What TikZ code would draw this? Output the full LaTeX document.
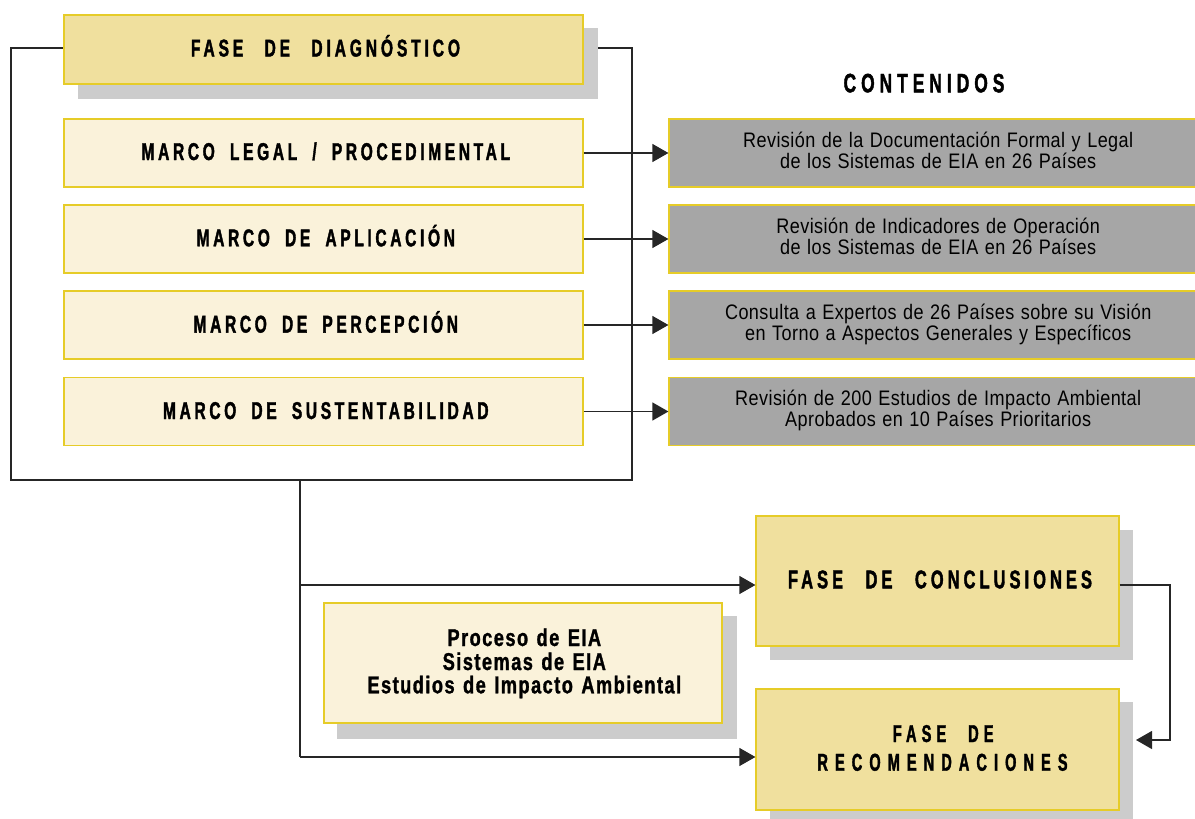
\documentclass[tikz,border=0pt]{standalone}
\usepackage{fontspec}
\setmainfont{Liberation Sans}
\newfontfamily\dfont[FakeStretch=0.64,LetterSpace=16,WordSpace=3.4,BoldFeatures={FakeBold=1.6}]{Liberation Sans}
\newfontfamily\kfont[FakeStretch=0.64,LetterSpace=16,WordSpace=2.6,BoldFeatures={FakeBold=1.6}]{Liberation Sans}
\newfontfamily\mfont[FakeStretch=0.64,LetterSpace=15,WordSpace=1.9,BoldFeatures={FakeBold=1.6}]{Liberation Sans}
\newfontfamily\cfont[FakeStretch=0.65,LetterSpace=19,BoldFeatures={FakeBold=1.6}]{Liberation Sans}
\newfontfamily\rafont[FakeStretch=0.6,LetterSpace=21,WordSpace=2.4,BoldFeatures={FakeBold=1.6}]{Liberation Sans}
\newfontfamily\rbfont[FakeStretch=0.6,LetterSpace=29,BoldFeatures={FakeBold=1.6}]{Liberation Sans}
\newfontfamily\pfont[FakeStretch=0.75,LetterSpace=6,WordSpace=1.3,BoldFeatures={FakeBold=1.2}]{Liberation Sans}
\newfontfamily\gfont[FakeStretch=0.86,LetterSpace=2,WordSpace=1.2]{Liberation Sans}
\usetikzlibrary{arrows.meta}
\definecolor{yel}{RGB}{240,224,158}
\definecolor{cream}{RGB}{250,242,218}
\definecolor{bord}{RGB}{230,204,40}
\definecolor{grayb}{RGB}{166,166,166}
\definecolor{shad}{RGB}{204,204,204}
\tikzset{
  box/.style={draw=bord,line width=1.2pt,inner sep=0pt},
  phase/.style={box,fill=yel},
  marco/.style={box,fill=cream,minimum width=519pt,minimum height=68pt},
  cont/.style={box,fill=grayb,minimum width=538pt,minimum height=68pt},
  txt/.style={anchor=base,inner sep=0pt,text=black},
  dtxt/.style={txt,font=\dfont\bfseries\fontsize{24.3}{28}\selectfont},
  ctxt/.style={txt,font=\kfont\bfseries\fontsize{25.6}{28}\selectfont},
  mtxt/.style={txt,font=\mfont\bfseries\fontsize{24.3}{28}\selectfont},
  gtxt/.style={txt,font=\gfont\fontsize{21}{21}\selectfont},
  ptxt/.style={txt,font=\pfont\bfseries\fontsize{24.3}{24}\selectfont},
  conn/.style={line width=1.2pt,draw=black!85},
  arr/.style={conn,-{Triangle[length=16pt,width=18pt]}},
}
\begin{document}
\begin{tikzpicture}[x=1pt,y=-1pt]
\useasboundingbox (0,0) rectangle (1195,819);
% shadows
\fill[shad] (78,28) rectangle (598,99);
\fill[shad] (770,530) rectangle (1133,660);
\fill[shad] (770,702) rectangle (1133,830);
\fill[shad] (337,616) rectangle (737,739);
% bracket
\coordinate (bl) at (11,48);
\coordinate (bb) at (300,480);
\coordinate (br) at (632,480);
\coordinate (tr) at (632,48);
\coordinate (ds) at (598,48);
\draw[conn] (64,48) -- (bl) |- (br) -- (tr) -- (ds);
% boxes
\node[phase,minimum width=519pt,minimum height=69pt] (diag) at (323.5,49.5) {};
\node[marco] (m1) at (323.5,153) {};
\node[marco] (m2) at (323.5,239) {};
\node[marco] (m3) at (323.5,325) {};
\node[marco] (m4) at (323.5,411.5) {};
\node[cont] (c1) at (938,153) {};
\node[cont] (c2) at (938,239) {};
\node[cont] (c3) at (938,325) {};
\node[cont] (c4) at (938,411.5) {};
\node[phase,minimum width=363pt,minimum height=130pt] (conc) at (937.5,581) {};
\node[phase,minimum width=363pt,minimum height=121pt] (rec) at (937.5,749.5) {};
\node[box,fill=cream,minimum width=398pt,minimum height=120pt] (proc) at (523,663) {};
% texts
\node[dtxt] (tdiag) at (325.5,56.5) {FASE DE DIAGNÓSTICO};
\node[txt,font=\cfont\bfseries\fontsize{26.6}{30}\selectfont] (conten) at (924,92.3) {CONTENIDOS};
\node[mtxt] (t1) at (325.8,160) {MARCO LEGAL / PROCEDIMENTAL};
\node[mtxt] (t2) at (325.8,246.3) {MARCO DE APLICACIÓN};
\node[mtxt] (t3) at (325.8,332.6) {MARCO DE PERCEPCIÓN};
\node[mtxt] (t4) at (325.8,419) {MARCO DE SUSTENTABILIDAD};
\node[gtxt] (g1a) at (938.2,147.5) {Revisión de la Documentación Formal y Legal};
\node[gtxt] (g1b) at (938.2,168.5) {de los Sistemas de EIA en 26 Países};
\node[gtxt] (g2a) at (938.2,233.5) {Revisión de Indicadores de Operación};
\node[gtxt] (g2b) at (938.2,254.5) {de los Sistemas de EIA en 26 Países};
\node[gtxt] (g3a) at (938.2,319.5) {Consulta a Expertos de 26 Países sobre su Visión};
\node[gtxt] (g3b) at (938.2,340.5) {en Torno a Aspectos Generales y Específicos};
\node[gtxt] (g4a) at (938.2,405.8) {Revisión de 200 Estudios de Impacto Ambiental};
\node[gtxt] (g4b) at (938.2,426.8) {Aprobados en 10 Países Prioritarios};
\node[ctxt] (tconc) at (940,588.3) {FASE DE CONCLUSIONES};
\node[txt,font=\rafont\bfseries\fontsize{24.3}{28}\selectfont] (trec1) at (943.2,742) {FASE DE};
\node[txt,font=\rbfont\bfseries\fontsize{24.3}{28}\selectfont] (trec2) at (942.5,770.7) {RECOMENDACIONES};
\node[ptxt] (p1) at (524.3,646) {Proceso de EIA};
\node[ptxt] (p2) at (524.3,670) {Sistemas de EIA};
\node[ptxt] (p3) at (524.3,693.3) {Estudios de Impacto Ambiental};
% connectors
\foreach \i in {1,2,3,4} \draw[arr] (m\i.east) -- (c\i.west |- m\i.east);
\coordinate (j1) at (300,585);
\coordinate (j2) at (300,757);
\draw[conn] (bb) -- (j2);
\draw[arr] (j1) -- (conc.west |- j1);
\draw[arr] (j2) -- (rec.west |- j2);
\coordinate (ce) at (1170,585);
\coordinate (rr) at (1136,740);
\draw[arr] (conc.east |- ce) -- (ce) |- (rr);
\end{tikzpicture}
\end{document}
